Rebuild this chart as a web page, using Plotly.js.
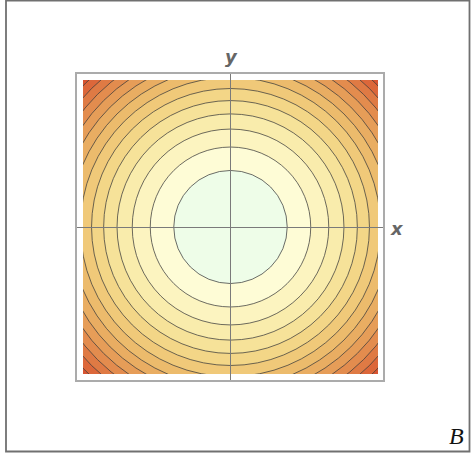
<!DOCTYPE html>
<html>
<head>
<meta charset="utf-8">
<script src="https://cdn.plot.ly/plotly-3.0.1.min.js"></script>
<style>
  html, body { margin: 0; padding: 0; background: #fff; }
  #chart { width: 471px; height: 454px; }
</style>
</head>
<body>
<div id="chart"></div>
<script>
// Contour levels of z = x^2 + y^2
const levels = [1, 2, 3, 4, 5, 6, 7, 8, 9, 10, 11, 12, 13];
// Fill colour of each band, from inside (z < 1) out to the corner (z > 13)
const bandColors = [
    '#eefde8', '#fefcd6', '#fcf4c0', '#f9ecac', '#f6e299', '#f3d687',
    '#f0c979', '#ecbb6c', '#e9ad62', '#e69d58', '#e38c4e', '#df7a44',
    '#dc673a', '#d85431'
];
const plotRange = [-2.6, 2.6];
const frameRange = [-2.697, 2.697];

// Build the filled contour bands as circles, largest first
const shapes = [{
    type: 'rect', xref: 'x', yref: 'y', layer: 'below',
    x0: plotRange[0], x1: plotRange[1], y0: plotRange[0], y1: plotRange[1],
    fillcolor: bandColors[bandColors.length - 1], line: {width: 0}
}];
for (let i = levels.length - 1; i >= 0; i--) {
    const r = Math.sqrt(levels[i]);
    shapes.push({
        type: 'circle', xref: 'x', yref: 'y', layer: 'below',
        x0: -r, x1: r, y0: -r, y1: r,
        fillcolor: bandColors[i],
        line: {color: 'rgba(60,60,60,0.75)', width: 1}
    });
}

// Outer border of the figure
shapes.push({
    type: 'rect', xref: 'paper', yref: 'paper',
    x0: 6 / 471, x1: 469.5 / 471, y0: 1 - 451.5 / 454, y1: 1 - 0.5 / 454,
    line: {color: '#707070', width: 1.8}
});

const hiddenAxis = {
    showgrid: false, zeroline: false, showticklabels: false, ticks: '',
    showline: false, fixedrange: true
};

const layout = {
    width: 471,
    height: 454,
    margin: {l: 0, r: 0, t: 0, b: 0},
    paper_bgcolor: '#fff',
    plot_bgcolor: 'rgba(0,0,0,0)',
    showlegend: false,
    xaxis: Object.assign({}, hiddenAxis, {domain: [83 / 471, 378 / 471], range: plotRange}),
    yaxis: Object.assign({}, hiddenAxis, {domain: [1 - 374 / 454, 1 - 80 / 454], range: plotRange}),
    xaxis2: Object.assign({}, hiddenAxis, {
        domain: [77 / 471, 383 / 471], range: frameRange, anchor: 'y2',
        zeroline: true, zerolinecolor: '#7a7a7a', zerolinewidth: 1,
        showline: true, mirror: true, linecolor: '#ababab', linewidth: 2
    }),
    yaxis2: Object.assign({}, hiddenAxis, {
        domain: [1 - 380 / 454, 1 - 74 / 454], range: frameRange, anchor: 'x2',
        zeroline: true, zerolinecolor: '#7a7a7a', zerolinewidth: 1,
        showline: true, mirror: true, linecolor: '#ababab', linewidth: 2
    }),
    shapes: shapes,
    annotations: [
        {text: '<b><i>x</i></b>', xref: 'paper', yref: 'paper',
         x: 397 / 471, y: 1 - 228 / 454, xanchor: 'center', yanchor: 'middle',
         showarrow: false, font: {family: 'DejaVu Sans', size: 18, color: '#666'}},
        {text: '<b><i>y</i></b>', xref: 'paper', yref: 'paper',
         x: 231 / 471, y: 1 - 57 / 454, xanchor: 'center', yanchor: 'middle',
         showarrow: false, font: {family: 'DejaVu Sans', size: 18, color: '#666'}},
        {text: '<i>B</i>', xref: 'paper', yref: 'paper',
         x: 456 / 471, y: 1 - 436 / 454, xanchor: 'center', yanchor: 'middle',
         showarrow: false, font: {family: 'Liberation Serif', size: 24, color: '#111'}}
    ]
};

const data = [
    {x: [], y: [], type: 'scatter', xaxis: 'x', yaxis: 'y', hoverinfo: 'skip'},
    {x: [], y: [], type: 'scatter', xaxis: 'x2', yaxis: 'y2', hoverinfo: 'skip'}
];

Plotly.newPlot('chart', data, layout, {displayModeBar: false, staticPlot: true});
</script>
</body>
</html>
